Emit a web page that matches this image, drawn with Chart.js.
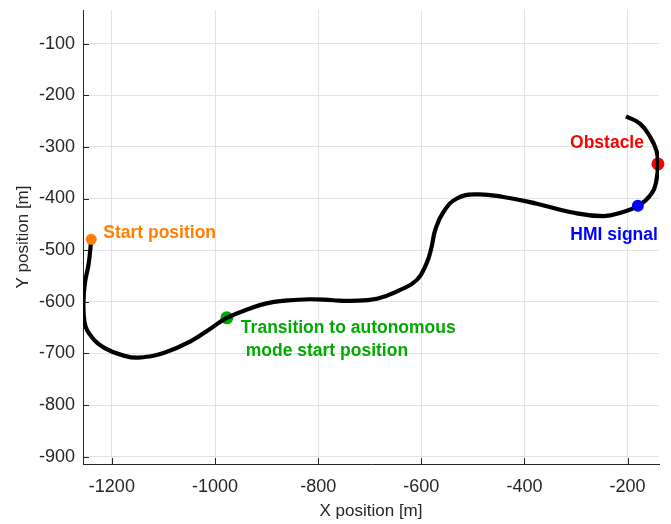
<!doctype html>
<html>

<head>
	<title>Vehicle trajectory</title>
	<script src="https://cdn.jsdelivr.net/npm/chart.js@4"></script>
	<style>
	html, body { margin: 0; padding: 0; background: #fff; }
	#container { width: 671px; height: 524px; }
	</style>
</head>

<body>
	<div id="container"><canvas id="canvas"></canvas></div>
	<script>
		// trajectory [m]
		const pathX = [-1240, -1245, -1252, -1255, -1253, -1239, -1213, -1174, -1148, -1097, -1045, -1009,
			-977, -932, -900, -867, -816, -771, -738, -686, -641, -609, -590, -580, -573, -557, -531,
			-493, -441, -376, -312, -247, -209, -180, -153, -144, -141, -144, -156, -176, -203];
		const pathY = [-479, -526, -562, -597, -640, -668, -690, -705, -708, -698, -675, -652,
			-631, -613, -603, -598, -595, -597, -598, -594, -577, -558, -526, -494, -461, -426, -400,
			-392, -397, -410, -426, -434, -426, -414, -390, -365, -332, -307, -281, -255, -241];

		// marked events
		const startPos = [-1240, -479];
		const transitionPos = [-977, -631];
		const hmiPos = [-180, -414];
		const obstaclePos = [-141, -333];

		const xTicks = [-1200, -1000, -800, -600, -400, -200];
		const yTicks = [-100, -200, -300, -400, -500, -600, -700, -800, -900];

		const INK = '#262626';
		const FONT = "'Liberation Sans', Arial, sans-serif";

		const path = pathX.map((x, i) => ({x: x, y: pathY[i]}));

		function marker(label, pos, color, order, r) {
			return {
				label: label,
				data: [{x: pos[0], y: pos[1]}],
				backgroundColor: color,
				borderColor: color,
				pointRadius: r,
				pointBorderWidth: 0,
				showLine: false,
				clip: false,
				order: order
			};
		}

		// text next to the markers: [text lines, anchor, dx, dy, align, color]
		const notes = [
			[['Start position'], startPos, 12, -1, 'left', '#FF8000'],
			[['Obstacle'], obstaclePos, -14, -16, 'right', '#FF0000'],
			[['HMI signal'], hmiPos, 20, 34, 'right', '#0000FF'],
			[['Transition to autonomous', ' mode start position'], transitionPos, 14, 15, 'left', '#00AA00']
		];

		const notesPlugin = {
			id: 'notes',
			afterDatasetsDraw(chart) {
				const ctx = chart.ctx;
				const xs = chart.scales.x, ys = chart.scales.y;
				const area = chart.chartArea;
				ctx.save();
				// inward tick marks, matlab style
				ctx.strokeStyle = INK;
				ctx.lineWidth = 1;
				ctx.beginPath();
				xTicks.forEach(v => {
					const px = Math.round(xs.getPixelForValue(v)) + 0.5;
					ctx.moveTo(px, area.bottom);
					ctx.lineTo(px, area.bottom - 6);
				});
				yTicks.forEach(v => {
					const py = Math.round(ys.getPixelForValue(v)) + 0.5;
					ctx.moveTo(area.left, py);
					ctx.lineTo(area.left + 6, py);
				});
				ctx.stroke();

				ctx.font = 'bold 17.5px ' + FONT;
				ctx.textBaseline = 'alphabetic';
				notes.forEach(n => {
					const [lines, pos, dx, dy, align, color] = n;
					const px = xs.getPixelForValue(pos[0]);
					const py = ys.getPixelForValue(pos[1]);
					ctx.fillStyle = color;
					ctx.textAlign = align;
					lines.forEach((t, i) => ctx.fillText(t, px + dx, py + dy + i * 23.5));
				});
				ctx.restore();
			}
		};

		const plain = v => String(v);

		const ctx = document.getElementById('canvas').getContext('2d');
		window.myChart = new Chart(ctx, {
			type: 'scatter',
			data: {
				datasets: [
					marker('Obstacle', obstaclePos, '#FF0000', 3, 6.5),
					marker('Transition', transitionPos, '#00AA00', 3, 6.5),
					{
						label: 'Trajectory',
						data: path,
						borderColor: '#000000',
						borderWidth: 4.2,
						borderJoinStyle: 'round',
						pointRadius: 0,
						showLine: true,
						tension: 0.45,
						fill: false,
						order: 2
					},
					marker('Start', startPos, '#FF8000', 1, 5.5),
					marker('HMI signal', hmiPos, '#0000FF', 1, 6)
				]
			},
			options: {
				responsive: true,
				maintainAspectRatio: false,
				animation: false,
				layout: {
					padding: {top: 10, right: 12, left: 0, bottom: 0}
				},
				plugins: {
					legend: {display: false},
					tooltip: {enabled: false}
				},
				scales: {
					x: {
						type: 'linear',
						min: -1256,
						max: -139,
						afterFit(scale) {
							scale.height = 60;
							scale.paddingLeft = 0;
							scale.paddingRight = 0;
						},
						afterBuildTicks(scale) { scale.ticks = xTicks.map(v => ({value: v})); },
						ticks: {
							padding: 12,
							color: INK,
							font: {family: FONT, size: 18},
							callback: plain
						},
						grid: {color: '#e3e3e3', drawTicks: false},
						border: {display: true, color: INK, width: 1},
						title: {
							display: true,
							text: 'X position [m]',
							color: INK,
							font: {family: FONT, size: 17},
							padding: {top: 0, bottom: 2}
						}
					},
					y: {
						type: 'linear',
						min: -914,
						max: -35,
						afterFit(scale) {
							scale.width = 83;
							scale.paddingTop = 0;
							scale.paddingBottom = 0;
						},
						afterBuildTicks(scale) { scale.ticks = yTicks.map(v => ({value: v})); },
						ticks: {
							padding: 8,
							color: INK,
							font: {family: FONT, size: 18},
							callback: plain
						},
						grid: {color: '#e3e3e3', drawTicks: false},
						border: {display: true, color: INK, width: 1},
						title: {
							display: true,
							text: 'Y position [m]',
							color: INK,
							font: {family: FONT, size: 17},
							padding: {top: 13, bottom: 0}
						}
					}
				}
			},
			plugins: [notesPlugin]
		});
	</script>
</body>

</html>
